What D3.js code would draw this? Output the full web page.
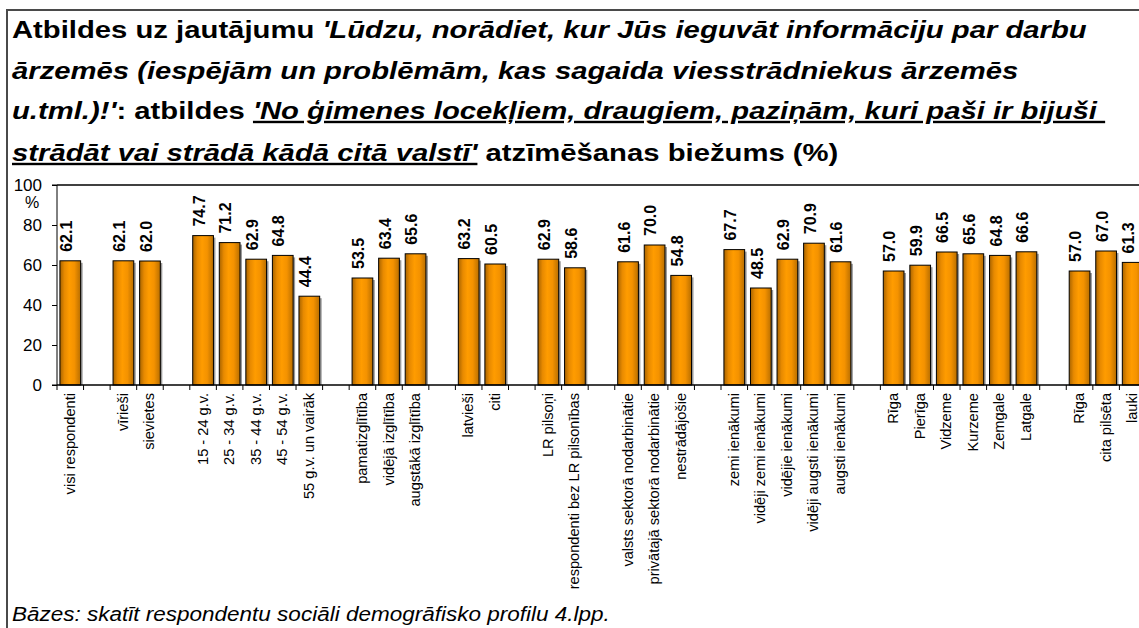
<!DOCTYPE html>
<html>
  <head>
    <meta charset="utf-8">
    <title>Atbildes - informācija par darbu ārzemēs</title>
    <script src="https://d3js.org/d3.v7.min.js"></script>
    <style>
      body { margin: 0; background: #fff; }
      svg { display: block; font-family: Arial, "Liberation Sans", sans-serif; }
    </style>
  </head>
  <body>
    <div id="chart"></div>
    <script>
      // Categories (empty strings are the gaps between groups)
      const categories = [
        "visi respondenti", "",
        "vīrieši", "sievietes", "",
        "15 - 24 g.v.", "25 - 34 g.v.", "35 - 44 g.v.", "45 - 54 g.v.", "55 g.v. un vairāk", "",
        "pamatizglītība", "vidējā izglītība", "augstākā izglītība", "",
        "latvieši", "citi", "",
        "LR pilsoņi", "respondenti bez LR pilsonības", "",
        "valsts sektorā nodarbinātie", "privātajā sektorā nodarbinātie", "nestrādājošie", "",
        "zemi ienākumi", "vidēji zemi ienākumi", "vidējie ienākumi", "vidēji augsti ienākumi", "augsti ienākumi", "",
        "Rīga", "Pierīga", "Vidzeme", "Kurzeme", "Zemgale", "Latgale", "",
        "Rīga", "cita pilsēta", "lauki"
      ];
      const values = [
        62.1, null,
        62.1, 62.0, null,
        74.7, 71.2, 62.9, 64.8, 44.4, null,
        53.5, 63.4, 65.6, null,
        63.2, 60.5, null,
        62.9, 58.6, null,
        61.6, 70.0, 54.8, null,
        67.7, 48.5, 62.9, 70.9, 61.6, null,
        57.0, 59.9, 66.5, 65.6, 64.8, 66.6, null,
        57.0, 67.0, 61.3
      ];
      const yTicks = [0, 20, 40, 60, 80, 100];

      const W = 1139, H = 628;
      const plotLeft = 57, plotTop = 185, plotBottom = 385;
      const step = 26.56;
      const plotRight = plotLeft + categories.length * step;

      const svg = d3.select("#chart").append("svg")
        .attr("width", W).attr("height", H);

      const defs = svg.append("defs");
      const grad = defs.append("linearGradient").attr("id", "barGrad")
        .attr("x1", "0%").attr("x2", "100%").attr("y1", "0%").attr("y2", "0%");
      grad.append("stop").attr("offset", "0%").attr("stop-color", "#a86400");
      grad.append("stop").attr("offset", "22%").attr("stop-color", "#e88a00");
      grad.append("stop").attr("offset", "45%").attr("stop-color", "#ff9c00");
      grad.append("stop").attr("offset", "70%").attr("stop-color", "#f49200");
      grad.append("stop").attr("offset", "100%").attr("stop-color", "#b86e00");

      // outer frame
      svg.append("path")
        .attr("d", `M7,${H + 10}V10H${W + 10}`)
        .attr("fill", "none").attr("stroke", "#4a4a4a").attr("stroke-width", 2);

      // Title
      const title = svg.append("g").attr("class", "title")
        .attr("font-size", 24).attr("font-weight", "bold");
      const titleLines = [
        [["Atbildes uz jautājumu ", ""], ["'Lūdzu, norādiet, kur Jūs ieguvāt informāciju par darbu", "i"]],
        [["ārzemēs (iespējām un problēmām, kas sagaida viesstrādniekus ārzemēs", "i"]],
        [["u.tml.)!'", "i"], [": atbildes ", ""], ["'No ģimenes locekļiem, draugiem, paziņām, kuri paši ir bijuši ", "iu"]],
        [["strādāt vai strādā kādā citā valstī'", "iu"], [" atzīmēšanas biežums (%)", ""]]
      ];
      const titleY = [38, 79, 119, 161];
      const lineNodes = titleLines.map((parts, i) => {
        const t = title.append("text").attr("x", 0).attr("y", titleY[i])
          .attr("xml:space", "preserve").style("white-space", "pre");
        parts.forEach(([txt, st]) => {
          const ts = t.append("tspan").text(txt);
          if (st.includes("i")) ts.attr("font-style", "italic");
          if (st.includes("u")) ts.attr("text-decoration", "underline");
        });
        return t;
      });
      const sx = 1075 / lineNodes[0].node().getComputedTextLength();
      lineNodes.forEach(t => t.attr("transform", `translate(12,0) scale(${sx},1)`));

      // scales
      const x = d3.scaleBand()
        .domain(d3.range(categories.length))
        .range([plotLeft, plotRight])
        .paddingInner(0.22).paddingOuter(0.11);
      const y = d3.scaleLinear().domain([0, 100]).range([plotBottom, plotTop]);

      // plot area top border
      svg.append("line")
        .attr("x1", plotLeft).attr("x2", W + 10).attr("y1", plotTop).attr("y2", plotTop)
        .attr("stroke", "#000").attr("stroke-width", 1.3);

      // y axis
      const yAxis = d3.axisLeft(y).tickValues(yTicks).tickSize(5).tickPadding(10);
      const gy = svg.append("g").attr("transform", `translate(${plotLeft},0)`).call(yAxis);
      gy.select(".domain").attr("stroke", "#000").attr("d", `M-5,${plotTop}H0V${plotBottom}H-5`);
      gy.selectAll("text").attr("font-size", 17).attr("font-family", "Arial, 'Liberation Sans', sans-serif")
        .attr("fill", "#000");
      svg.append("text").attr("x", 32).attr("y", 208).attr("text-anchor", "middle")
        .attr("font-size", 16).text("%");

      // bars
      const idx = d3.range(categories.length).filter(i => values[i] != null);
      svg.append("g").selectAll("rect.shadow").data(idx).join("rect")
        .attr("class", "shadow")
        .attr("x", i => x(i) + 2).attr("y", i => y(values[i]) + 2)
        .attr("width", x.bandwidth()).attr("height", i => plotBottom - y(values[i]) - 2)
        .attr("fill", "#9a9a9a");
      svg.append("g").selectAll("rect.bar").data(idx).join("rect")
        .attr("class", "bar")
        .attr("x", i => x(i)).attr("y", i => y(values[i]))
        .attr("width", x.bandwidth()).attr("height", i => plotBottom - y(values[i]))
        .attr("fill", "url(#barGrad)").attr("stroke", "#000").attr("stroke-width", 1);

      // value labels
      svg.append("g").selectAll("text").data(idx).join("text")
        .attr("transform", i => `translate(${x(i) + x.bandwidth() / 2 + 1.7},${y(values[i]) - 9}) rotate(-90)`)
        .attr("font-size", 16).attr("font-weight", "bold")
        .text(i => values[i].toFixed(1));

      // x axis line and ticks between categories
      svg.append("line")
        .attr("x1", plotLeft).attr("x2", W + 10).attr("y1", plotBottom).attr("y2", plotBottom)
        .attr("stroke", "#000").attr("stroke-width", 1.3);
      svg.append("g").selectAll("line").data(d3.range(categories.length + 1)).join("line")
        .attr("x1", i => plotLeft + i * x.step()).attr("x2", i => plotLeft + i * x.step())
        .attr("y1", plotBottom).attr("y2", plotBottom + 5)
        .attr("stroke", "#000");

      // category labels
      svg.append("g").selectAll("text").data(idx).join("text")
        .attr("transform", i => `translate(${plotLeft + (i + 0.5) * x.step() + 4.5},393) rotate(-90)`)
        .attr("text-anchor", "end")
        .attr("font-size", 14.6)
        .text(i => categories[i]);

      // footer
      const foot = svg.append("text").attr("x", 0).attr("y", 621)
        .attr("font-size", 20).attr("font-style", "italic")
        .text("Bāzes: skatīt respondentu sociāli demogrāfisko profilu 4.lpp.");
      const fsx = 598 / foot.node().getComputedTextLength();
      foot.attr("transform", `translate(12,0) scale(${fsx},1)`);
    </script>
  </body>
</html>
